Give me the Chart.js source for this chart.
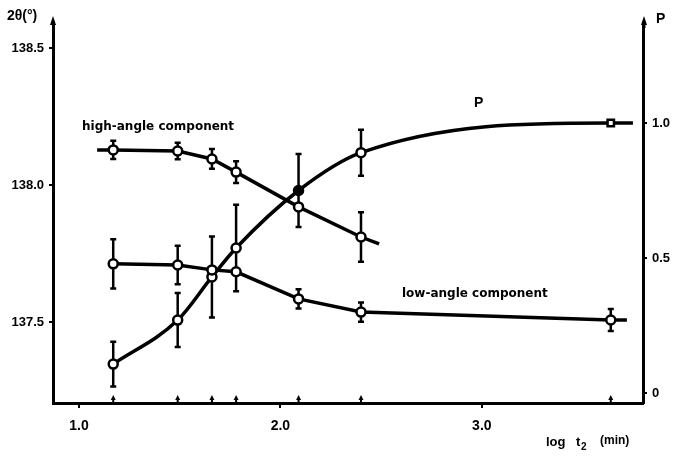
<!DOCTYPE html>
<html>
	<head>
		<meta charset="UTF-8" />
		<title>2θ und P gegen log t2</title>
		<script src="https://cdn.jsdelivr.net/npm/chart.js"></script>
		<style>
			body { margin: 0; background: #fff; }
			#wrap { width: 673px; height: 456px; }
		</style>
	</head>
	<body>
		<div id="wrap"><canvas id="angleChart"></canvas></div>
		<script>
			// log t2 positions marked on the x axis
			const markX = [1.17, 1.49, 1.66, 1.78, 2.09, 2.40, 3.64];

			// high-angle component (left axis, 2θ in degrees), first/last entries are line ends
			const highX = [1.09, 1.17, 1.49, 1.66, 1.78, 2.09, 2.40, 2.49];
			const highY = [138.128, 138.128, 138.124, 138.095, 138.047, 137.92, 137.81, 137.785];
			const highErr = [null, 0.033, 0.03, 0.036, 0.04, null, 0.09, null];

			// low-angle component (left axis), last entry is line end
			const lowX = [1.17, 1.49, 1.66, 1.78, 2.09, 2.40, 3.64, 3.72];
			const lowY = [137.712, 137.708, 137.69, 137.683, 137.584, 137.536, 137.507, 137.507];
			const lowErr = [0.09, 0.07, null, null, 0.035, 0.035, 0.04, null];

			// P (right axis), last entry is line end
			const pX = [1.17, 1.49, 1.66, 1.78, 2.09, 2.40, 3.64, 3.75];
			const pY = [0.107, 0.27, 0.43, 0.537, 0.75, 0.89, 1.0, 1.0];
			const pErr = [0.083, 0.1, 0.15, 0.16, 0.135, 0.085, null, null];

			const xTicks = [1.0, 2.0, 3.0];
			const leftTicks = [137.5, 138.0, 138.5];
			const rightTicks = [0, 0.5, 1.0];
			const rightLabels = ["0", "0.5", "1.0"];

			const FONT = "Liberation Sans";
			const LABEL_FONT = "DejaVu Sans";
			const pts = (xs, ys) => xs.map((x, i) => ({ x, y: ys[i] }));

			const errorBars = {
			  id: "errorBars",
			  beforeDatasetsDraw(chart) {
			    const { ctx, scales } = chart;
			    ctx.save();
			    ctx.strokeStyle = "#000";
			    ctx.lineWidth = 2.5;
			    chart.data.datasets.forEach(ds => {
			      if (!ds.errors) return;
			      const ys = scales[ds.yAxisID];
			      ds.data.forEach((p, i) => {
			        const e = ds.errors[i];
			        if (e == null) return;
			        const px = scales.x.getPixelForValue(p.x);
			        const top = ys.getPixelForValue(p.y + e);
			        const bot = ys.getPixelForValue(p.y - e);
			        ctx.beginPath();
			        ctx.moveTo(px, top); ctx.lineTo(px, bot);
			        ctx.moveTo(px - 3, top); ctx.lineTo(px + 3, top);
			        ctx.moveTo(px - 3, bot); ctx.lineTo(px + 3, bot);
			        ctx.stroke();
			      });
			    });
			    ctx.restore();
			  },
			  afterDraw(chart) {
			    const { ctx, chartArea: a, scales } = chart;
			    ctx.save();
			    ctx.fillStyle = "#000";
			    ctx.strokeStyle = "#000";
			    // axis arrows
			    [[a.left, a.top], [a.right + 1, a.top]].forEach(([x, y]) => {
			      ctx.beginPath();
			      ctx.moveTo(x, y - 6);
			      ctx.lineTo(x - 3, y + 3);
			      ctx.lineTo(x + 3, y + 3);
			      ctx.closePath();
			      ctx.fill();
			      ctx.fillRect(x - 1, y, 2.5, 6);
			    });
			    // small arrows on the x axis
			    markX.forEach(v => {
			      const x = scales.x.getPixelForValue(v);
			      ctx.beginPath();
			      ctx.moveTo(x, a.bottom - 8);
			      ctx.lineTo(x - 2.5, a.bottom - 3);
			      ctx.lineTo(x + 2.5, a.bottom - 3);
			      ctx.closePath();
			      ctx.fill();
			      ctx.fillRect(x - 1, a.bottom - 4, 2, 4);
			    });
			    // texts
			    ctx.textBaseline = "middle";
			    ctx.textAlign = "left";
			    ctx.font = "bold 12px " + LABEL_FONT;
			    ctx.fillText("high-angle component", 82, 127);
			    ctx.fillText("low-angle component", 402, 294);
			    ctx.font = "bold 14px " + FONT;
			    ctx.fillText("P", 474, 103);
			    ctx.fillText("P", 656, 19);
			    ctx.fillText("2θ(°)", 7, 16);
			    ctx.font = "bold 13px " + FONT;
			    ctx.fillText("log", 546, 442);
			    ctx.fillText("t", 576, 442);
			    ctx.font = "bold 10px " + FONT;
			    ctx.fillText("2", 581, 447);
			    ctx.font = "bold 12px " + FONT;
			    ctx.fillText("(min)", 600, 441);
			    ctx.restore();
			  }
			};

			const dot = {
			  pointBackgroundColor: "#fff",
			  pointBorderColor: "#000",
			  pointBorderWidth: 2.5
			};

			new Chart(document.getElementById("angleChart"), {
			  type: "scatter",
			  data: {
			    datasets: [
			      {
			        label: "high-angle component",
			        data: pts(highX, highY),
			        errors: highErr,
			        yAxisID: "y",
			        showLine: true,
			        borderColor: "#000",
			        borderWidth: 3.5,
			        pointRadius: c => (c.dataIndex === 0 || c.dataIndex === highX.length - 1 ? 0 : 4.5),
			        ...dot
			      },
			      {
			        label: "low-angle component",
			        data: pts(lowX, lowY),
			        errors: lowErr,
			        yAxisID: "y",
			        showLine: true,
			        borderColor: "#000",
			        borderWidth: 3.5,
			        pointRadius: c => (c.dataIndex === lowX.length - 1 ? 0 : 4.5),
			        ...dot
			      },
			      {
			        label: "P",
			        data: pts(pX, pY),
			        errors: pErr,
			        yAxisID: "y1",
			        showLine: true,
			        cubicInterpolationMode: "monotone",
			        borderColor: "#000",
			        borderWidth: 3.5,
			        pointRadius: c => (c.dataIndex === pX.length - 1 ? 0 : 4.5),
			        pointStyle: c => (c.dataIndex === 6 ? "rect" : "circle"),
			        ...dot,
			        pointBackgroundColor: c => (c.dataIndex === 4 ? "#000" : "#fff")
			      }
			    ]
			  },
			  options: {
			    responsive: true,
			    maintainAspectRatio: false,
			    animation: false,
			    layout: { padding: { top: 22, left: 0, right: 0, bottom: 0 } },
			    plugins: {
			      legend: { display: false },
			      tooltip: { enabled: false }
			    },
			    scales: {
			      x: {
			        type: "linear",
			        min: 0.871,
			        max: 3.80,
			        afterBuildTicks: s => { s.ticks = xTicks.map(value => ({ value })); },
			        afterFit: s => { s.height = 53; },
			        ticks: {
			          color: "#000",
			          padding: 10,
			          font: { family: FONT, size: 14, weight: "bold" },
			          callback: v => v.toFixed(1)
			        },
			        grid: { display: true, drawOnChartArea: false, tickLength: 5, color: "#000", lineWidth: 2 },
			        border: { color: "#000", width: 3 }
			      },
			      y: {
			        position: "left",
			        min: 137.204,
			        max: 138.595,
			        afterBuildTicks: s => { s.ticks = leftTicks.map(value => ({ value })); },
			        afterFit: s => { s.width = 53; },
			        ticks: {
			          color: "#000",
			          padding: 5,
			          font: { family: FONT, size: 13, weight: "bold" },
			          callback: v => v.toFixed(1)
			        },
			        grid: { display: true, drawOnChartArea: false, tickLength: 4, color: "#000", lineWidth: 2 },
			        border: { color: "#000", width: 3 }
			      },
			      y1: {
			        position: "right",
			        min: -0.037,
			        max: 1.374,
			        afterBuildTicks: s => { s.ticks = rightTicks.map(value => ({ value })); },
			        afterFit: s => { s.width = 30; },
			        ticks: {
			          color: "#000",
			          padding: 5,
			          font: { family: FONT, size: 13, weight: "bold" },
			          callback: (v, i) => rightLabels[i]
			        },
			        grid: { display: true, drawOnChartArea: false, tickLength: 4, color: "#000", lineWidth: 2 },
			        border: { color: "#000", width: 3 }
			      }
			    }
			  },
			  plugins: [errorBars]
			});
		</script>
	</body>
</html>
